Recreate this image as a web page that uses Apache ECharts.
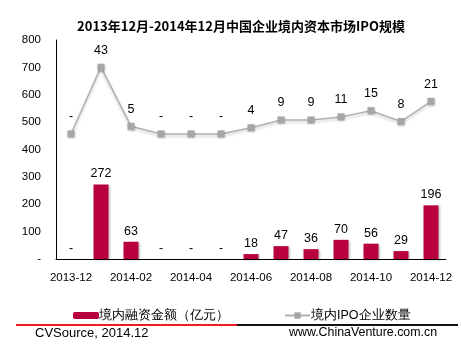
<!DOCTYPE html>
<html>
<head>
<meta charset="utf-8">
<script src="https://cdn.jsdelivr.net/npm/echarts@6/dist/echarts.min.js"></script>
<style>html,body{margin:0;padding:0;background:#fff}#c{width:461px;height:346px}</style>
</head>
<body>
<div id="c"></div>
<script>
var categories = ['2013-12','2014-01','2014-02','2014-03','2014-04','2014-05','2014-06','2014-07','2014-08','2014-09','2014-10','2014-11','2014-12'];
var amountValues = [0, 272, 63, 0, 0, 0, 18, 47, 36, 70, 56, 29, 196];
var countValues = [0, 43, 5, 0, 0, 0, 4, 9, 9, 11, 15, 8, 21];
var yTicks = [0, 100, 200, 300, 400, 500, 600, 700, 800];

var chart = echarts.init(document.getElementById('c'));
var font = '"Liberation Sans", Arial, sans-serif';
var dash = function (v) { return v === 0 ? '-' : String(v); };
chart.setOption({
  animation: false,
  title: {
    text: '2013年12月-2014年12月中国企业境内资本市场IPO规模',
    left: 236, textAlign: 'center', top: 15,
    textStyle: { fontFamily: '"Noto Sans CJK SC", sans-serif', fontWeight: 'bold', fontSize: 13, color: '#000' }
  },
  grid: { left: 56, right: 15, top: 40, bottom: 87 },
  legend: [
    { data: ['境内融资金额（亿元）'], left: 68, top: 304, itemWidth: 26, itemHeight: 7, itemGap: 2,
      textStyle: { fontFamily: font, fontSize: 12.5, color: '#000', padding: [0,0,0,-5] } },
    { data: ['境内IPO企业数量'], left: 279, top: 304, itemWidth: 25, itemHeight: 8,
      textStyle: { fontFamily: font, fontSize: 12.5, color: '#000', padding: [0,0,0,-4] } }
  ],
  xAxis: {
    type: 'category', data: categories, boundaryGap: true,
    axisLine: { lineStyle: { color: '#000', width: 1 } },
    axisTick: { show: false },
    axisLabel: { interval: 1, fontFamily: font, fontSize: 11.5, color: '#000', margin: 13 }
  },
  yAxis: [
    { type: 'value', min: yTicks[0], max: yTicks[yTicks.length-1], interval: 100,
      axisLine: { show: true, lineStyle: { color: '#000' } }, axisTick: { show: false },
      splitLine: { show: false },
      axisLabel: { fontFamily: font, fontSize: 11.5, color: '#000', margin: 15, formatter: dash } },
    { type: 'value', min: -80.5, max: 60.5, show: false, splitLine: { show: false } }
  ],
  series: [
    { name: '境内融资金额（亿元）', type: 'bar', data: amountValues, barWidth: 15, yAxisIndex: 0,
      itemStyle: { color: '#b8003c', shadowBlur: 2, shadowColor: 'rgba(0,0,0,0.25)', shadowOffsetX: 1, shadowOffsetY: 1 },
      label: { show: true, position: 'top', distance: 4, fontFamily: font, fontSize: 12.5, color: '#000',
        formatter: function (p) { return dash(p.value); } } },
    { name: '境内IPO企业数量', type: 'line', data: countValues, yAxisIndex: 1,
      symbol: 'rect', symbolSize: 7,
      lineStyle: { color: '#b0b0b0', width: 1.5, shadowBlur: 3, shadowColor: 'rgba(0,0,0,0.2)', shadowOffsetY: 2 },
      itemStyle: { color: '#a6a6a6', shadowBlur: 2, shadowColor: 'rgba(0,0,0,0.25)', shadowOffsetY: 1 },
      label: { show: true, position: 'top', distance: 7, fontFamily: font, fontSize: 12.5, color: '#000',
        formatter: function (p) { return dash(p.value); } } }
  ],
  graphic: [
    { type: 'rect', shape: { x: 16, y: 324, width: 221, height: 2 }, style: { fill: '#ee1c1c' } },
    { type: 'rect', shape: { x: 237, y: 324, width: 221, height: 2 }, style: { fill: '#111' } },
    { type: 'text', left: 35, top: 327, style: { text: 'CVSource, 2014.12', font: '13px "Liberation Sans", Arial', fill: '#000' } },
    { type: 'text', left: 289, top: 327, style: { text: 'www.ChinaVenture.com.cn', font: '12.4px "Liberation Sans", Arial', fill: '#000' } }
  ]
});
</script>
</body>
</html>
